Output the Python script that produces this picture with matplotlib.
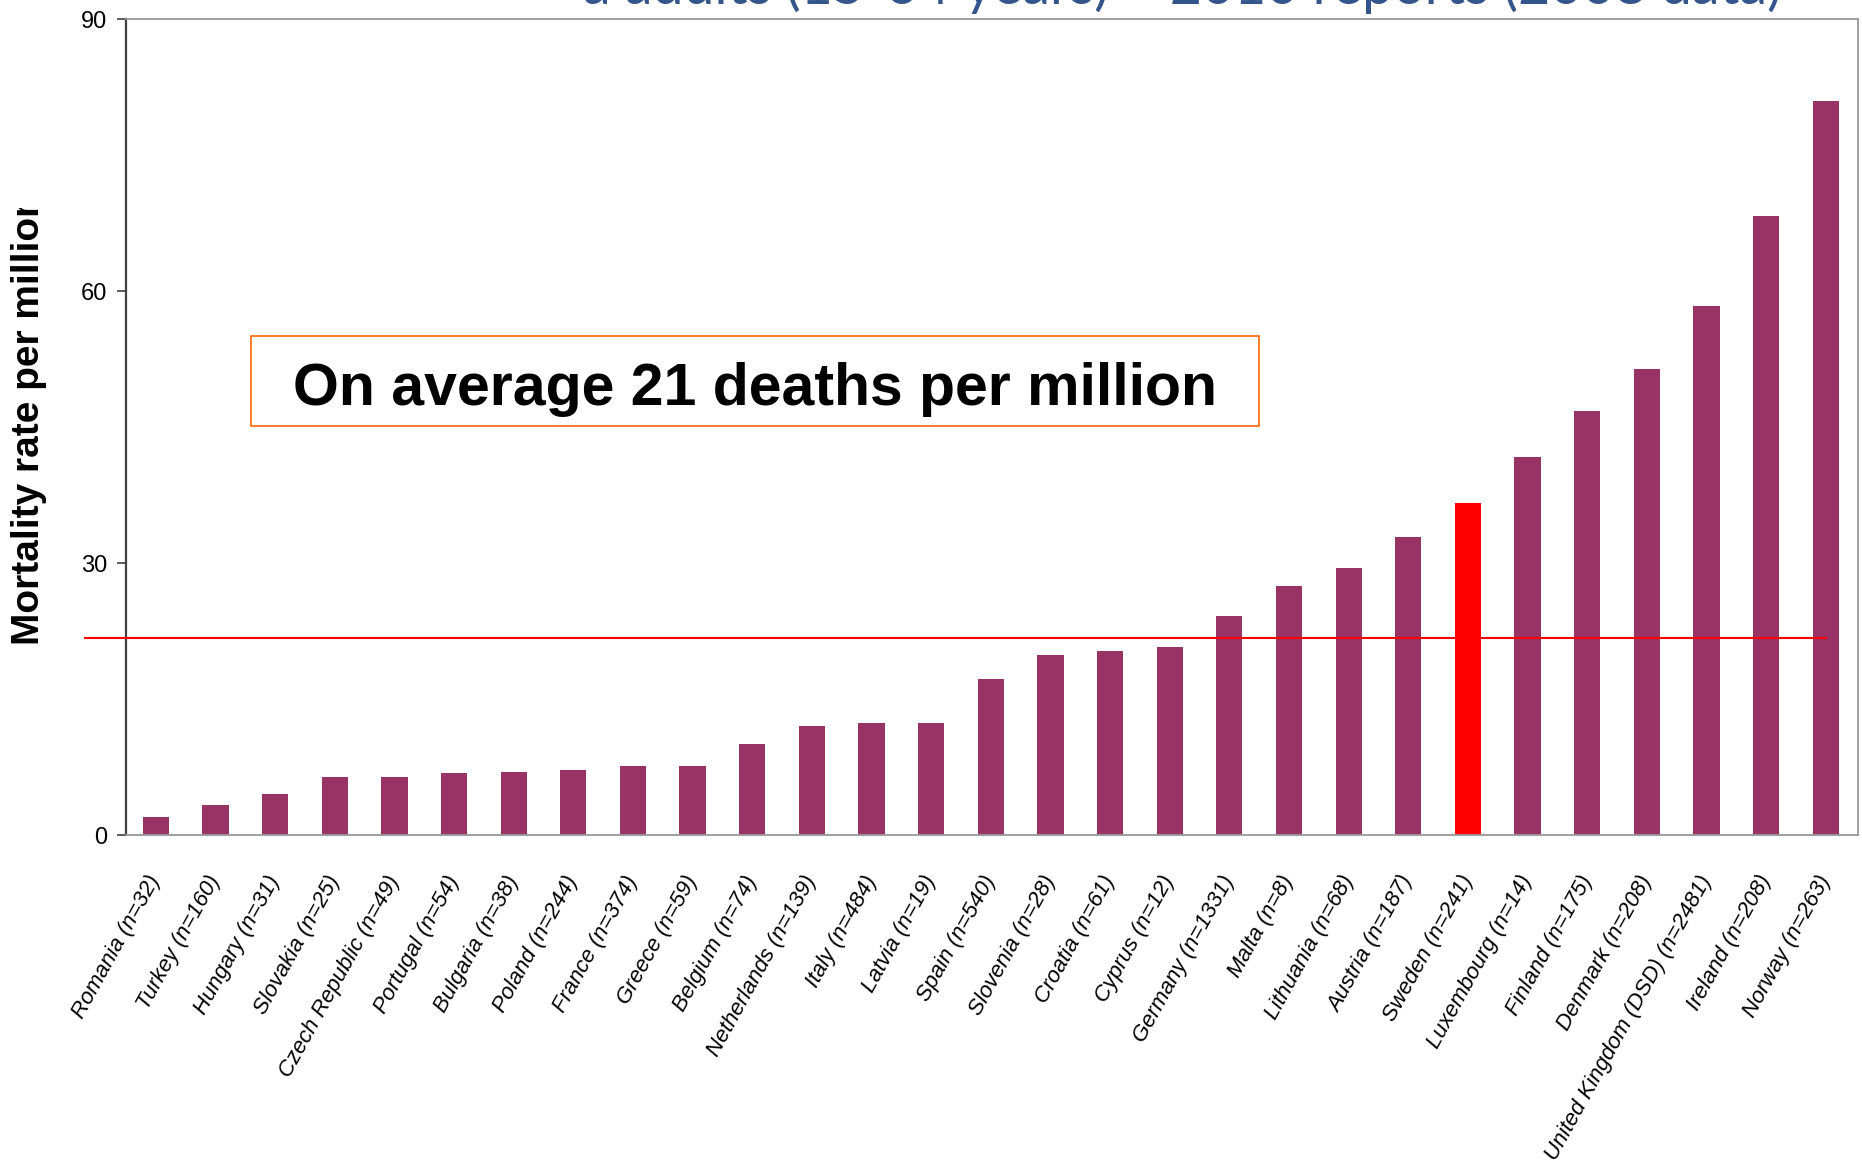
import matplotlib
matplotlib.use("Agg")
import matplotlib.pyplot as plt
import matplotlib.transforms as mtransforms
from matplotlib.patches import Rectangle
import numpy as np

plt.rcParams['font.family'] = ['Liberation Sans', 'DejaVu Sans']

# mortality rate per million, adults 15-64, sorted ascending
countries = ["Romania (n=32)", "Turkey (n=160)", "Hungary (n=31)", "Slovakia (n=25)",
             "Czech Republic (n=49)", "Portugal (n=54)", "Bulgaria (n=38)", "Poland (n=244)",
             "France (n=374)", "Greece (n=59)", "Belgium (n=74)", "Netherlands (n=139)",
             "Italy (n=484)", "Latvia (n=19)", "Spain (n=540)", "Slovenia (n=28)",
             "Croatia (n=61)", "Cyprus (n=12)", "Germany (n=1331)", "Malta (n=8)",
             "Lithuania (n=68)", "Austria (n=187)", "Sweden (n=241)", "Luxembourg (n=14)",
             "Finland (n=175)", "Denmark (n=208)", "United Kingdom (DSD) (n=2481)",
             "Ireland (n=208)", "Norway (n=263)"]
rates = [2.0, 3.3, 4.5, 6.4, 6.4, 6.8, 6.9, 7.2, 7.6, 7.6, 10.0, 12.05, 12.3, 12.3,
         17.2, 19.8, 20.3, 20.7, 24.2, 27.5, 29.5, 32.9, 36.6, 41.7, 46.8, 51.4,
         58.4, 68.3, 81.0]
highlight = "Sweden (n=241)"
average_line = 21.7

W, H = 1862, 1173
fig = plt.figure(figsize=(W / 100, H / 100), dpi=100)
ax = fig.add_axes([126 / W, 1 - 835 / H, (1858 - 126) / W, (835 - 19) / H])


def fx(px):
    return px / W


def fy(py):
    return 1 - py / H


x = np.arange(len(countries))
colors = ['#FF0000' if c == highlight else '#993366' for c in countries]
ax.bar(x, rates, width=0.44, color=colors, zorder=2)

# average line, running a bit past the left axis
ax.plot([-1.18, x[-1]], [average_line, average_line], color='#FF0000', lw=1.5,
        clip_on=False, zorder=3)

ax.set_xlim(-0.5, 28.54)
ax.set_ylim(0, 90)
ax.set_yticks([0, 30, 60, 90])
ax.tick_params(axis='y', length=6.5, width=1.2, color='#404040', pad=7, labelsize=17)
ax.tick_params(axis='x', length=0)
ax.set_xticks([])

ax.spines['left'].set_color('#404040')
ax.spines['left'].set_linewidth(1.6)
for side in ['top', 'right', 'bottom']:
    ax.spines[side].set_color('#999999')
    ax.spines[side].set_linewidth(1.3)

# rotated country labels
offset = mtransforms.ScaledTranslation(0.0, -0.42, fig.dpi_scale_trans)
for i, lab in enumerate(countries):
    ax.text(i, 0, lab, transform=ax.get_xaxis_transform() + offset,
            rotation=61, rotation_mode='anchor', ha='right', va='center',
            fontsize=16, style='italic', clip_on=False)

# y axis label, cut off at the top
ylab = fig.text(fx(29), fy(645), "Mortality rate per million", rotation=90,
                ha='center', va='bottom', fontsize=28, fontweight='bold')
ylab.set_clip_box(mtransforms.TransformedBbox(
    mtransforms.Bbox([[0, 0], [1, fy(208)]]), fig.transFigure))
ylab.set_clip_on(True)

# annotation box
box = Rectangle((fx(251), fy(426)), fx(1259) - fx(251), fy(336) - fy(426),
                transform=fig.transFigure, fill=True, facecolor='white',
                edgecolor='#FF6600', lw=1.2, zorder=5)
fig.patches.append(box)
fig.text(fx(755), fy(405), "On average 21 deaths per million", ha='center',
         va='baseline', fontsize=42.5, fontweight='bold', zorder=6)

# slide title, only its lower part falls inside the figure
fig.text(fx(1782), fy(4), "a adults (15-64 years) \u2013 2010 reports (2008 data)",
         ha='right', va='baseline', fontsize=40, color='#34558B', family='Lato')

fig.savefig("out.png", dpi=100)
